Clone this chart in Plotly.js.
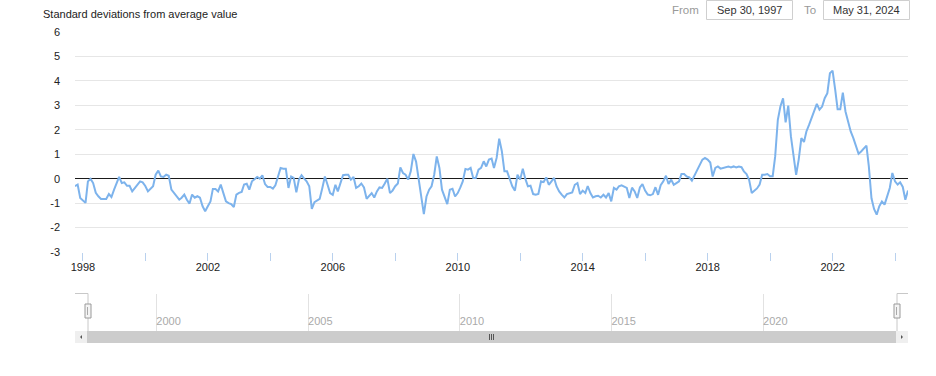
<!DOCTYPE html>
<html>
<head>
<meta charset="utf-8">
<script src="https://cdn.plot.ly/plotly-3.0.1.min.js"></script>
<style>html,body{margin:0;padding:0;background:#fff;}#chart{width:936px;height:376px;}</style>
</head>
<body>
<div id="chart"></div>
<script>
// ---- data (monthly, month-end, starting Sep 1997) ----
const startYear = 1997;
const startMonth = 9;
const values1997to2002 = [
  -0.31,-0.24,-0.79,-0.9,-0.99,-0.11,-0.01,-0.18,-0.58,-0.72,
  -0.83,-0.83,-0.83,-0.63,-0.75,-0.45,-0.2,0.07,-0.18,-0.15,
  -0.29,-0.29,-0.52,-0.38,-0.2,-0.11,-0.15,-0.3,-0.52,-0.4,
  -0.31,0.16,0.33,0.09,0.07,0.16,0.12,-0.45,-0.6,-0.72,
  -0.86,-0.78,-0.65,-0.86,-1.02,-0.65,-0.78,-0.72,-0.78,-1.13,
  -1.33,-1.13,-0.93,-0.42,-0.42,-0.52,-0.24,-0.58,-0.93,-1.0,
  -1.04,-1.16,-0.65,-0.58
];
const values2003to2007 = [
  -0.54,-0.24,-0.21,-0.45,-0.11,-0.02,
  0.07,0.0,0.14,-0.22,-0.34,-0.34,-0.41,-0.27,0.07,0.44,
  0.41,0.41,-0.38,0.09,0.03,-0.56,-0.04,0.14,0.0,-0.11,
  -0.31,-1.24,-0.96,-0.9,-0.83,-0.38,0.09,-0.25,-0.59,-0.66,
  -0.25,-0.52,-0.14,0.14,0.16,0.16,-0.04,0.07,-0.38,-0.31,
  -0.2,-0.36,-0.82,-0.72,-0.59,-0.77,-0.52,-0.36,-0.38,-0.2,
  0.0,-0.59,-0.49,-0.31
];
const values2008to2012 = [
  -0.2,0.46,0.23,0.16,-0.04,0.3,
  1.01,0.7,0.03,-0.75,-1.45,-0.73,-0.45,-0.31,0.16,0.91,
  0.44,-0.45,-0.73,-1.04,-0.45,-0.41,-0.73,-0.59,-0.36,-0.11,
  0.4,0.37,0.44,0.03,0.03,0.37,0.44,0.71,0.5,0.78,
  0.82,0.44,0.85,1.64,1.12,0.3,0.3,-0.04,-0.31,-0.49,
  0.16,-0.04,0.41,0.0,-0.31,-0.29,-0.63,-0.66,-0.63,-0.11,
  -0.14,0.05,-0.25,-0.11
];
const values2013to2017 = [
  0.03,-0.31,-0.52,-0.65,-0.77,-0.63,
  -0.6,-0.56,-0.25,-0.18,-0.63,-0.49,-0.59,-0.3,-0.59,-0.77,
  -0.72,-0.7,-0.77,-0.66,-0.77,-0.59,-0.93,-0.38,-0.45,-0.31,
  -0.27,-0.31,-0.38,-0.79,-0.37,-0.52,-0.79,-0.36,-0.22,-0.49,
  -0.65,-0.68,-0.63,-0.35,-0.66,-0.27,-0.11,0.12,-0.22,-0.04,
  -0.25,-0.18,-0.11,0.19,0.19,0.09,0.05,-0.08,0.15,0.37,
  0.57,0.78,0.85,0.78
];
const values2018to2024 = [
  0.66,0.09,0.44,0.5,0.41,0.44,
  0.46,0.5,0.46,0.5,0.46,0.5,0.47,0.3,0.19,-0.05,
  -0.59,-0.49,-0.4,-0.24,0.16,0.16,0.19,0.1,0.1,0.91,
  2.41,2.95,3.29,2.3,2.99,1.73,0.91,0.16,0.78,1.66,
  1.5,1.93,2.2,2.48,2.82,3.06,2.82,2.95,3.29,3.5,
  4.31,4.42,3.63,2.84,2.84,3.52,2.75,2.34,1.93,1.66,
  1.3,1.02,1.11,1.25,1.35,0.5,-0.8,-1.24,-1.47,-1.13,
  -0.93,-1.06,-0.72,-0.38,0.23,-0.11,-0.24,-0.15,-0.34,-0.86,
  -0.48
];
const axisTickYears = [1998,2000,2002,2004,2006,2008,2010,2012,2014,2016,2018,2020,2022,2024];
const axisLabelYears = [1998,2002,2006,2010,2014,2018,2022];
const navigatorYears = [2000,2005,2010,2015,2020];
const yTicks = [-3,-2,-1,0,1,2,3,4,5,6];
const chartTitle = 'Standard deviations from average value';
const fromText = 'Sep 30, 1997';
const toText = 'May 31, 2024';

// ---- build series ----
const values = [].concat(values1997to2002, values2003to2007, values2008to2012, values2013to2017, values2018to2024);
function pad(n){return (n<10?'0':'')+n;}
const dates = values.map((v,i)=>{
  const m0 = (startMonth-1)+i;
  const y = startYear + Math.floor(m0/12);
  const m = m0 % 12;
  const d = new Date(Date.UTC(y, m+1, 0));
  return d.getUTCFullYear()+'-'+pad(d.getUTCMonth()+1)+'-'+pad(d.getUTCDate());
});
const xStart = dates[0], xEnd = dates[dates.length-1];

// ---- geometry helpers (pixel -> paper) ----
const W=936,H=376,L=75,R=28,T=32,B=33;
const PW=W-L-R, PH=H-T-B;
const px = X => (X-L)/PW;
const py = Y => (H-B-Y)/PH;
const FONT = 'Arial, "Liberation Sans", sans-serif';

const traces = [
  {x: dates, y: values, type:'scatter', mode:'lines', line:{color:'#7db3ec', width:2}, hoverinfo:'skip', xaxis:'x', yaxis:'y'},
  {x: [], y: [], type:'scatter', mode:'lines', xaxis:'x2', yaxis:'y2', hoverinfo:'skip'}
];

const shapes = [
  // from / to boxes
  {type:'rect', xref:'paper', yref:'paper', x0:px(706.5), x1:px(792.5), y0:py(19.5), y1:py(0.5), line:{color:'#cfcfcf', width:1}, fillcolor:'#fff'},
  {type:'rect', xref:'paper', yref:'paper', x0:px(823.5), x1:px(909.5), y0:py(19.5), y1:py(0.5), line:{color:'#cfcfcf', width:1}, fillcolor:'#fff'},
  // navigator frame
  {type:'line', xref:'paper', yref:'paper', x0:px(75), x1:px(88), y0:py(293.5), y1:py(293.5), line:{color:'#c8c8c8', width:1}},
  {type:'line', xref:'paper', yref:'paper', x0:px(88), x1:px(88), y0:py(293.5), y1:py(331), line:{color:'#c8c8c8', width:1}},
  {type:'line', xref:'paper', yref:'paper', x0:px(897), x1:px(908), y0:py(293.5), y1:py(293.5), line:{color:'#c8c8c8', width:1}},
  {type:'line', xref:'paper', yref:'paper', x0:px(897), x1:px(897), y0:py(293.5), y1:py(331), line:{color:'#c8c8c8', width:1}},
  // scrollbar
  {type:'rect', xref:'paper', yref:'paper', x0:px(75), x1:px(908), y0:py(343), y1:py(331), line:{width:0}, fillcolor:'#cccccc'},
  {type:'rect', xref:'paper', yref:'paper', x0:px(75), x1:px(87), y0:py(343), y1:py(331), line:{width:0}, fillcolor:'#efefef'},
  {type:'rect', xref:'paper', yref:'paper', x0:px(896), x1:px(908), y0:py(343), y1:py(331), line:{width:0}, fillcolor:'#efefef'},
  {type:'path', xref:'paper', yref:'paper', path:`M ${px(80)} ${py(337)} L ${px(82)} ${py(335)} L ${px(82)} ${py(339)} Z`, line:{width:0}, fillcolor:'#555'},
  {type:'path', xref:'paper', yref:'paper', path:`M ${px(903)} ${py(337)} L ${px(901)} ${py(335)} L ${px(901)} ${py(339)} Z`, line:{width:0}, fillcolor:'#555'},
  // scrollbar grip
  {type:'line', xref:'paper', yref:'paper', x0:px(489.5), x1:px(489.5), y0:py(334), y1:py(340), line:{color:'#555', width:1}},
  {type:'line', xref:'paper', yref:'paper', x0:px(491.5), x1:px(491.5), y0:py(334), y1:py(340), line:{color:'#555', width:1}},
  {type:'line', xref:'paper', yref:'paper', x0:px(493.5), x1:px(493.5), y0:py(334), y1:py(340), line:{color:'#555', width:1}},
  // handles
  {type:'rect', xref:'paper', yref:'paper', x0:px(85), x1:px(91), y0:py(318), y1:py(304), line:{color:'#9a9a9a', width:1}, fillcolor:'#f4f4f4'},
  {type:'rect', xref:'paper', yref:'paper', x0:px(894), x1:px(900), y0:py(318), y1:py(304), line:{color:'#9a9a9a', width:1}, fillcolor:'#f4f4f4'},
  {type:'line', xref:'paper', yref:'paper', x0:px(87.5), x1:px(87.5), y0:py(307), y1:py(315), line:{color:'#aaa', width:1}},
  {type:'line', xref:'paper', yref:'paper', x0:px(896.5), x1:px(896.5), y0:py(307), y1:py(315), line:{color:'#aaa', width:1}}
];

const annotations = [
  {text:'From', xref:'paper', yref:'paper', x:px(685.5), y:py(10), showarrow:false, xanchor:'center', yanchor:'middle', font:{family:FONT, size:11.5, color:'#999'}},
  {text:fromText, xref:'paper', yref:'paper', x:px(749.5), y:py(10), showarrow:false, xanchor:'center', yanchor:'middle', font:{family:FONT, size:11, color:'#333'}},
  {text:'To', xref:'paper', yref:'paper', x:px(809.5), y:py(10), showarrow:false, xanchor:'center', yanchor:'middle', font:{family:FONT, size:11.5, color:'#999'}},
  {text:toText, xref:'paper', yref:'paper', x:px(866.5), y:py(10), showarrow:false, xanchor:'center', yanchor:'middle', font:{family:FONT, size:11, color:'#333'}}
];

const layout = {
  width:W, height:H,
  margin:{l:L, r:R, t:T, b:B, pad:0},
  paper_bgcolor:'#fff', plot_bgcolor:'rgba(0,0,0,0)',
  showlegend:false,
  font:{family:FONT, size:11, color:'#222'},
  title:{text:chartTitle, xref:'container', yref:'container', x:43/W, xanchor:'left', y:1-14/H, yanchor:'middle', font:{family:FONT, size:11, color:'#222'}},
  xaxis:{
    domain:[0,1], anchor:'y', type:'date', range:[xStart, xEnd],
    tickmode:'array',
    tickvals: axisTickYears.map(y=>y+'-01-01'),
    ticktext: axisTickYears.map(y=> axisLabelYears.includes(y) ? String(y) : ''),
    ticks:'outside', ticklen:8, tickwidth:1, tickcolor:'#b9d1ee',
    ticklabelstandoff:-3,
    showgrid:false, zeroline:false, showline:false,
    tickfont:{family:FONT, size:11, color:'#222'}, fixedrange:true
  },
  yaxis:{
    domain:[py(252), 1], anchor:'x', range:[-3,6],
    tickmode:'array', tickvals:yTicks, ticktext:yTicks.map(String),
    showgrid:true, gridcolor:'#e6e6e6', gridwidth:1,
    zeroline:true, zerolinecolor:'#1a1a1a', zerolinewidth:1,
    showline:false, ticks:'', ticklabelstandoff:14,
    tickfont:{family:FONT, size:11, color:'#222'}, fixedrange:true
  },
  xaxis2:{
    domain:[px(88), px(897)], anchor:'y2', type:'date', range:[xStart, xEnd],
    tickmode:'array', tickvals: navigatorYears.map(y=>y+'-01-01'), ticktext: navigatorYears.map(String),
    ticklabelposition:'inside right', ticks:'', ticklabelstandoff:-2,
    showgrid:true, gridcolor:'#e2e2e2', gridwidth:1, zeroline:false, showline:false,
    tickfont:{family:FONT, size:11, color:'#aaa'}, fixedrange:true
  },
  yaxis2:{
    domain:[py(331), py(293.5)], anchor:'x2', range:[0,1],
    showgrid:false, zeroline:false, showline:false, showticklabels:false, ticks:'', fixedrange:true
  },
  shapes: shapes,
  annotations: annotations
};

Plotly.newPlot('chart', traces, layout, {staticPlot:true, displayModeBar:false});
</script>
</body>
</html>
